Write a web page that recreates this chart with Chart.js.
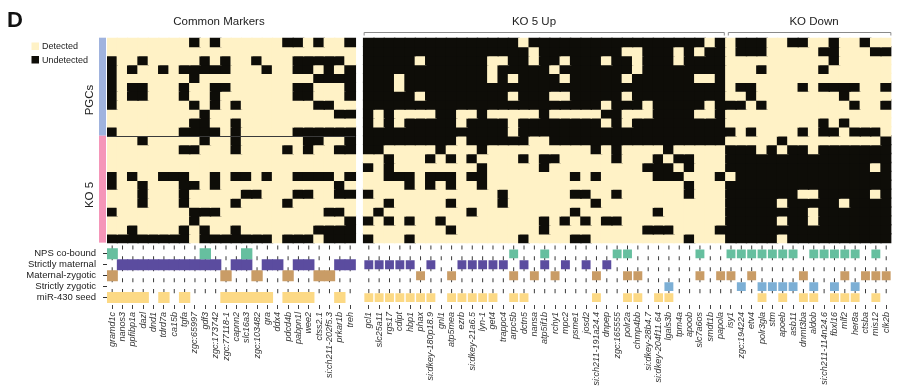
<!DOCTYPE html>
<html>
<head>
<meta charset="utf-8">
<title>Detection heatmap</title>
<script src="https://cdn.jsdelivr.net/npm/chart.js@4.4.1/dist/chart.umd.min.js"></script>
<style>
  html, body { margin: 0; padding: 0; background: #fff; }
  #box { width: 900px; height: 390px; }
</style>
</head>
<body>
<div id="box"><canvas id="heatmap" width="900" height="390"></canvas></div>
<script>
// Gene columns, in figure order
const commonGenes = ['gramd1c', 'nanos3', 'ppfibp1a', 'dazl', 'dnd1', 'tdrd7a', 'ca15b', 'tgfa',
  'zgc:65997', 'gdf3', 'zgc:173742', 'zgc:77118-1', 'capnn2', 'slc16a3', 'zgc:103482', 'gra',
  'ddx4', 'pdcd4b', 'pabpn1l', 'wee2', 'ctss2.1', 'si:ch211-202f5.3', 'prkar1b', 'treh'];
const koUpGenes = ['gcl1', 'slc25a11', 'rgs17', 'cdipt', 'hbp1', 'phax', 'si:dkey-180p18.9', 'gnl1',
  'atp5mea', 'ezrb', 'si:dkey-21a6.5', 'lyn-1', 'get4', 'trappc4', 'arpc5b', 'dctn5', 'nansa',
  'atp5if1b', 'rchy1', 'mpc2', 'psme1', 'josd2', 'si:ch211-191a24.4', 'dnpep', 'zgc:165555',
  'polr2a', 'chmp4bb', 'si:dkey-28b4.7', 'si:dkey-204f11.64', 'lgals3b', 'tpm4a', 'apoob',
  'slc7a6os', 'smdt1b', 'papola'];
const koDownGenes = ['isy1', 'zgc:194224', 'etv4', 'polr3gla', 'stm', 'apoeb', 'asb11', 'dnmt3ba',
  'aldob', 'si:ch211-114n24.6', 'fbxl16', 'mlf2', 'her8a', 'ctsba', 'mis12', 'clk2b'];

// 1 = undetected, 0 = detected (spaces only to help reading)
const pgcCommon = [
  '000000 001010 000001 101001',
  '000000 000000 000000 000000',
  '100100 000101 001000 111110',
  '101001 011111 000100 110101',
  '100000 001000 000000 001111',
  '101100 010011 000000 110001',
  '101100 010010 000000 110001',
  '100000 001010 100000 001100',
  '000000 000100 000000 000011',
  '000000 001100 100000 000000',
  '100000 011110 100000 111111'
];
const pgcKoUp = [
  '11111 11111 11111 01111 11111 11111 11101',
  '11111 11111 11111 10111 11111 00111 01011',
  '11111 01111 11001 10110 11101 10111 01111',
  '11111 11111 11011 11101 11111 10111 11111',
  '11101 11111 11010 11110 11111 01111 11001',
  '11101 11111 11111 11111 11111 11111 11111',
  '11111 01111 11110 11100 11111 01111 11111',
  '11111 11111 11111 11111 11101 11011 11101',
  '10100 00110 01000 00100 00011 00011 11001',
  '10101 11110 11110 11111 11101 01111 11111',
  '11111 11111 11110 11111 11111 11111 11111'
];
const pgcKoDown = [
  '0111 0011 0010 0100',
  '0111 0000 0110 0011',
  '0000 0000 0010 0000',
  '0001 0000 0100 0000',
  '0000 0000 0000 0000',
  '0110 0001 0111 1001',
  '0010 0000 0001 0000',
  '1101 0000 0000 1001',
  '0000 0000 0000 0000',
  '0000 0000 0101 0000',
  '1010 0001 0110 1110'
];
const ko5Common = [
  '000100 000100 100000 011001',
  '000000 011000 100001 010011',
  '000000 000000 000000 000000',
  '000000 000000 000000 000000',
  '101001 110010 110100 111101',
  '100100 011010 000000 000010',
  '000100 010000 011000 110011',
  '000100 010000 100001 000000',
  '100000 001110 000000 000110',
  '000000 001000 000000 000001',
  '001000 010100 100000 001111',
  '111111 110111 111101 110111'
];
const ko5KoUp = [
  '11111 11110 11111 10011 11111 11111 11111',
  '11000 00100 01000 00000 00101 00001 00000',
  '00100 01010 10000 10110 00001 00010 11000',
  '10100 00000 01000 00100 00000 00111 01000',
  '00111 01110 11000 00000 10100 00011 10001',
  '00001 01010 01000 00000 00000 00000 01000',
  '10000 00000 00010 00000 11001 00000 01000',
  '00100 00010 00010 00000 00100 00000 00000',
  '01000 00000 10000 00000 10000 00010 00000',
  '10101 00100 00000 00101 01011 00000 00000',
  '00000 00010 00000 00100 00000 00111 00001',
  '10001 00000 00000 10000 11000 00000 01000'
];
const ko5KoDown = [
  '0000 0100 0000 0001',
  '1110 1011 0111 1111',
  '1111 1111 1111 1111',
  '1111 1111 1111 1101',
  '0111 1111 1111 1111',
  '1111 1111 1111 1111',
  '1111 1110 0111 1101',
  '1111 1011 1110 1111',
  '1111 1111 0111 1111',
  '1111 1011 0111 1111',
  '1111 1111 1111 1111',
  '1111 1011 1111 1111'
];

// gene annotations: common | KO 5 Up | KO Down
const npsCoBound       = '100000 000100 010000 000000 | 00000 00000 00001 00100 00001 10000 00100 | 1111 1110 1111 1010';
const strictlyMaternal = '011111 111110 110110 110011 | 11111 01001 11110 10101 01010 00000 00000 | 0000 0000 0000 0000';
const maternalZygotic  = '100000 000001 001001 001100 | 00000 10010 00001 01010 00100 11000 00101 | 1010 0001 0001 0111';
const strictlyZygotic  = '000000 000000 000000 000000 | 00000 00000 00000 00000 00000 00001 00000 | 0101 1110 1010 1000';
const mir430Seed       = '111101 010001 111101 110010 | 11111 11011 11101 10000 00100 11011 00000 | 0001 0101 1011 1010';

const annotationLabels = ['NPS co-bound', 'Strictly maternal', 'Maternal-zygotic', 'Strictly zygotic', 'miR-430 seed'];
const annotationValues = [npsCoBound, strictlyMaternal, maternalZygotic, strictlyZygotic, mir430Seed];
const annotationColors = ['#66bf9f', '#5b4c9f', '#c99c66', '#7cafd5', '#fcd985'];

const DETECTED = '#fff2c6';
const UNDETECTED = '#0e0d08';
const FONT = "'Liberation Sans', Arial, Helvetica, sans-serif";
Chart.defaults.font.family = FONT;

const GAP = 0.8; // white gap after the common markers block
const nCommon = commonGenes.length;
const genes = commonGenes.concat(koUpGenes, koDownGenes);
const xPos = genes.map((g, i) => i + 0.5 + (i < nCommon ? 0 : GAP));
const xMax = genes.length + GAP;
const bits = s => s.replace(/[^01]/g, '').split('').map(Number);

const sampleRows = pgcCommon.map((r, i) => r + pgcKoUp[i] + pgcKoDown[i])
  .concat(ko5Common.map((r, i) => r + ko5KoUp[i] + ko5KoDown[i]))
  .map(bits);
const nRows = sampleRows.length;
const annoCenter = k => nRows + 1.26 + 1.227 * k;
const yMax = nRows + 7;

const datasets = [];
sampleRows.forEach((row, r) => {
  datasets.push({
    label: 'sample ' + (r + 1),
    data: row.map((v, i) => ({ x: xPos[i], y: [r, r + 1] })),
    backgroundColor: row.map(v => v ? UNDETECTED : DETECTED),
    inflateAmount: 0.7,
    order: 0
  });
});
annotationValues.forEach((vals, k) => {
  const flags = bits(vals);
  const c = annoCenter(k);
  // small marks over every column
  datasets.push({
    label: annotationLabels[k] + ' marks',
    data: xPos.map(x => ({ x, y: [c - 0.95, c - 0.5] })),
    backgroundColor: '#3a3a3a',
    maxBarThickness: 1,
    inflateAmount: 0,
    order: 2
  });
  const common = [], ko = [];
  flags.forEach((f, i) => {
    if (!f) return;
    if (i < nCommon) common.push({ x: xPos[i], y: [c - 0.56, c + 0.56] });
    else ko.push({ x: xPos[i], y: [c - 0.5, c + 0.5] });
  });
  datasets.push({ label: annotationLabels[k], data: common, backgroundColor: annotationColors[k], inflateAmount: 0.5, order: 1 });
  datasets.push({ label: annotationLabels[k], data: ko, backgroundColor: annotationColors[k], barPercentage: 0.86, order: 1 });
});

// headers, brackets, legend, group bars
const decor = {
  id: 'decor',
  beforeDatasetsDraw(chart) {
    const { ctx, scales: { y } } = chart;
    const top = y.getPixelForValue(0), mid = y.getPixelForValue(pgcCommon.length), bot = y.getPixelForValue(nRows);
    ctx.save();
    ctx.fillStyle = '#a0b3de';
    ctx.fillRect(99, top, 7, mid - top);
    ctx.fillStyle = '#f596b9';
    ctx.fillRect(99, mid, 7, bot - mid);
    ctx.restore();
  },
  afterDraw(chart) {
    const { ctx, scales: { x, y } } = chart;
    ctx.save();
    ctx.fillStyle = '#111';
    ctx.font = 'bold 22px ' + FONT;
    ctx.textBaseline = 'alphabetic';
    ctx.fillText('D', 7, 27);

    ctx.fillStyle = '#222';
    ctx.font = '11.5px ' + FONT;
    ctx.textAlign = 'center';
    ctx.textBaseline = 'middle';
    ctx.fillText('Common Markers', 219, 22);
    ctx.fillText('KO 5 Up', 534, 22);
    ctx.fillText('KO Down', 814, 22);

    // brackets over the KO blocks
    const upL = x.getPixelForValue(nCommon + GAP);
    const upR = x.getPixelForValue(nCommon + GAP + koUpGenes.length);
    ctx.strokeStyle = '#8a8a8a';
    ctx.lineWidth = 1;
    [[upL + 0.5, upR - 1.5], [upR + 2.5, x.right - 0.5]].forEach(([a, b]) => {
      ctx.beginPath();
      ctx.moveTo(a, 35.5); ctx.lineTo(a, 32.5); ctx.lineTo(b, 32.5); ctx.lineTo(b, 35.5);
      ctx.stroke();
    });

    // divider between PGCs and KO 5 in the common block
    const dy = Math.round(y.getPixelForValue(pgcCommon.length)) + 0.5;
    ctx.strokeStyle = '#3a3a3a';
    ctx.beginPath();
    ctx.moveTo(x.left, dy); ctx.lineTo(x.getPixelForValue(nCommon), dy);
    ctx.stroke();

    // group labels
    ctx.font = '11.5px ' + FONT;
    ctx.fillStyle = '#222';
    [['PGCs', 100], ['KO 5', 195]].forEach(([t, cy]) => {
      ctx.save();
      ctx.translate(90, cy);
      ctx.rotate(-Math.PI / 2);
      ctx.fillText(t, 0, 0);
      ctx.restore();
    });

    // legend
    ctx.textAlign = 'left';
    ctx.font = '9px ' + FONT;
    [['Detected', DETECTED, 42.5], ['Undetected', UNDETECTED, 56]].forEach(([t, col, ty]) => {
      ctx.fillStyle = col;
      ctx.fillRect(31.5, ty, 7.5, 7.5);
      ctx.fillStyle = '#222';
      ctx.fillText(t, 42, ty + 4.3);
    });
    ctx.restore();
  }
};

new Chart(document.getElementById('heatmap'), {
  type: 'bar',
  data: { datasets },
  plugins: [decor],
  options: {
    responsive: false,
    animation: false,
    devicePixelRatio: 1,
    layout: { padding: { top: 37.7, right: 0, bottom: 0, left: 0 } },
    plugins: { legend: { display: false }, tooltip: { enabled: false } },
    datasets: { bar: { grouped: false, barPercentage: 1, categoryPercentage: 1, borderWidth: 0 } },
    scales: {
      x: {
        type: 'linear',
        min: 0,
        max: xMax,
        offset: false,
        afterBuildTicks: s => { s.ticks = xPos.map(v => ({ value: v })); },
        afterFit: s => { s.height = 85; },
        ticks: {
          autoSkip: false,
          maxRotation: 90,
          minRotation: 90,
          padding: 3,
          color: '#333',
          font: { size: 9, style: 'italic' },
          callback: (v, i) => genes[i]
        },
        grid: { offset: false, drawOnChartArea: false, tickLength: 4, color: '#444' },
        border: { display: false }
      },
      y: {
        type: 'linear',
        reverse: true,
        min: 0,
        max: yMax,
        afterBuildTicks: s => { s.ticks = annotationLabels.map((l, k) => ({ value: annoCenter(k) })); },
        afterFit: s => { s.width = 107; },
        ticks: {
          autoSkip: false,
          padding: 7,
          color: '#222',
          font: { size: 9.5 },
          callback: (v, i) => annotationLabels[i]
        },
        grid: { drawOnChartArea: false, tickLength: 4, color: '#333' },
        border: { display: false }
      }
    }
  }
});
</script>
</body>
</html>
